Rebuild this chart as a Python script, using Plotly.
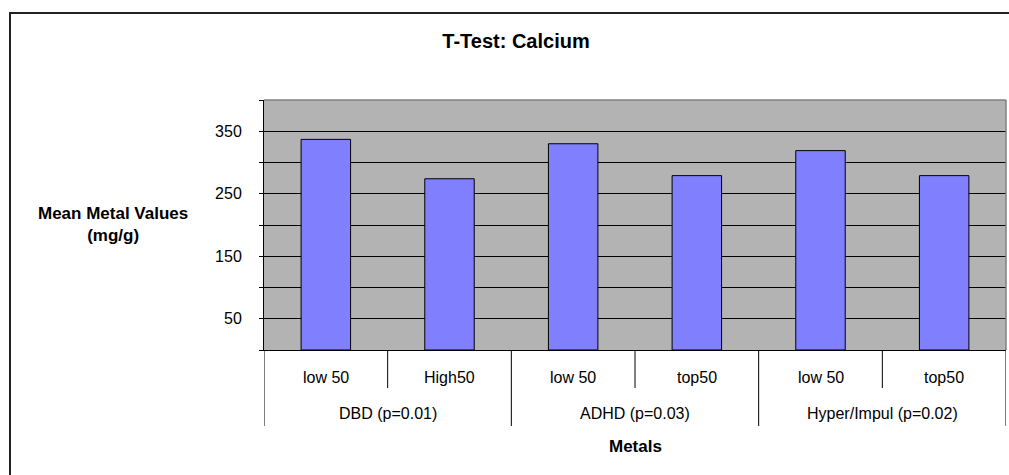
import plotly.graph_objects as go

# ---- data ----
groups = ["DBD (p=0.01)", "ADHD (p=0.03)", "Hyper/Impul (p=0.02)"]
sub_labels = ["low 50", "High50", "low 50", "top50", "low 50", "top50"]
group_of_bar = [0, 0, 1, 1, 2, 2]
values = [337, 274, 330, 279, 319, 279]
y_tick_vals = [0, 50, 100, 150, 200, 250, 300, 350, 400]
y_tick_text = ["", "50", "", "150", "", "250", "", "350", ""]

title_text = "T-Test: Calcium"
y_title = "Mean Metal Values<br>(mg/g)"
x_title = "Metals"

# ---- layout geometry (pixels) ----
W, H = 1009, 475
L, R, T, B = 264, 1006, 100, 350
FONT = "Liberation Sans, Arial, sans-serif"


def px_x(p):
    return (p - L) / (R - L)


def px_y(p):
    return (B - p) / (B - T)


xs = list(range(len(values)))

fig = go.Figure()
fig.add_trace(go.Bar(
    x=xs, y=values, width=0.4,
    marker=dict(color="#8080FF", line=dict(color="black", width=1)),
    hoverinfo="y",
))

shapes = []
annotations = []

# sub-category labels and inner dividers
for i, lab in enumerate(sub_labels):
    annotations.append(dict(x=i, y=px_y(377), xref="x", yref="paper", text=lab,
                            showarrow=False, font=dict(size=16, color="black", family=FONT),
                            xanchor="center", yanchor="middle"))
for i in range(len(sub_labels) - 1):
    if group_of_bar[i] == group_of_bar[i + 1]:
        shapes.append(dict(type="line", xref="x", yref="paper", x0=i + 0.5, x1=i + 0.5,
                           y0=0, y1=px_y(388), line=dict(color="black", width=1)))

# group labels and group dividers
for g, gname in enumerate(groups):
    idx = [i for i, gg in enumerate(group_of_bar) if gg == g]
    annotations.append(dict(x=sum(idx) / len(idx), y=px_y(413), xref="x", yref="paper",
                            text=gname, showarrow=False,
                            font=dict(size=16, color="black", family=FONT),
                            xanchor="center", yanchor="middle"))
bounds = [-0.5] + [i + 0.5 for i in range(len(group_of_bar) - 1)
                   if group_of_bar[i] != group_of_bar[i + 1]] + [len(group_of_bar) - 0.5]
for bx in bounds:
    shapes.append(dict(type="line", xref="x", yref="paper", x0=bx, x1=bx,
                       y0=0, y1=px_y(426), line=dict(color="black", width=1)))

# plot frame top/right (gray)
shapes.append(dict(type="line", xref="paper", yref="paper", x0=0, x1=1, y0=1, y1=1,
                   line=dict(color="#808080", width=1.5), layer="above"))
shapes.append(dict(type="line", xref="paper", yref="paper", x0=1, x1=1, y0=0, y1=1,
                   line=dict(color="#808080", width=1.5), layer="above"))

# outer chart border (top and left edges; the rest lies outside the picture)
shapes.append(dict(type="line", xref="paper", yref="paper",
                   x0=px_x(9), x1=px_x(W), y0=px_y(13), y1=px_y(13),
                   line=dict(color="#222222", width=2)))
shapes.append(dict(type="line", xref="paper", yref="paper",
                   x0=px_x(10), x1=px_x(10), y0=px_y(12), y1=px_y(H),
                   line=dict(color="#222222", width=2)))

# axis titles
annotations.append(dict(x=px_x(113), y=px_y(224), xref="paper", yref="paper",
                        text="<b>" + y_title.replace("<br>", "</b><br><b>") + "</b>",
                        showarrow=False, font=dict(size=17, color="black", family=FONT),
                        xanchor="center", yanchor="middle", align="center"))
annotations.append(dict(x=px_x(635), y=px_y(446), xref="paper", yref="paper",
                        text="<b>" + x_title + "</b>", showarrow=False,
                        font=dict(size=17, color="black", family=FONT),
                        xanchor="center", yanchor="middle"))

fig.update_layout(
    width=W, height=H,
    margin=dict(l=L, r=W - R, t=T, b=H - B, pad=0),
    paper_bgcolor="white",
    plot_bgcolor="#B3B3B3",
    showlegend=False,
    title=dict(text="<b>" + title_text + "</b>", x=516 / W, xanchor="center",
               y=1 - 41 / H, yanchor="middle",
               font=dict(size=20, color="black", family=FONT)),
    xaxis=dict(range=[-0.5, len(values) - 0.5], showticklabels=False, showgrid=False,
               zeroline=False, showline=True, linecolor="black", linewidth=1, ticks=""),
    yaxis=dict(range=[0, 400], tickmode="array", tickvals=y_tick_vals, ticktext=y_tick_text,
               showgrid=True, gridcolor="black", gridwidth=1, zeroline=False,
               showline=True, linecolor="black", linewidth=1,
               ticks="outside", ticklen=4, tickcolor="black", tickwidth=1,
               ticklabelstandoff=14,
               tickfont=dict(size=16, color="black", family=FONT)),
    shapes=shapes,
    annotations=annotations,
    bargap=0.6,
)

fig.write_html(
    "out.html", config={"displayModeBar": False},
    post_script=(
        "document.documentElement.style.overflow='hidden';"
        "document.body.style.margin='0';document.body.style.overflow='hidden';"
    ),
)
